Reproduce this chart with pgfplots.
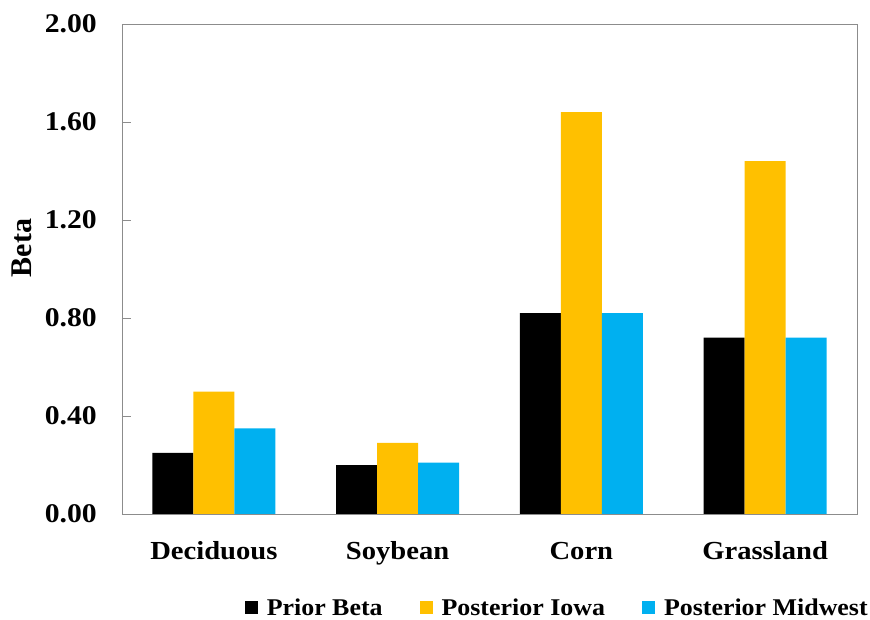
\documentclass[border=0pt]{standalone}
\usepackage{fontspec}
\setmainfont{Liberation Serif}
\newfontfamily\catfont{Liberation Serif}[FakeStretch=1.1]
\newfontfamily\tickfont{Liberation Serif}[FakeStretch=1.1]
\newfontfamily\legfont{Liberation Serif}[FakeStretch=1.08]
\usepackage{pgfplots}
\pgfplotsset{compat=1.18}
\definecolor{ciowa}{HTML}{FFC000}
\definecolor{cmid}{HTML}{00B0F0}
\definecolor{axgray}{HTML}{8C8C8C}
\begin{document}
\begin{tikzpicture}
\useasboundingbox (-122pt,-105pt) rectangle (748pt,514pt);
\begin{axis}[
  at={(0pt,0pt)}, anchor=south west,
  scale only axis, width=735pt, height=490pt,
  ybar=0pt, bar width=41pt,
  axis on top,
  xmin=-0.5, xmax=3.5, ymin=0, ymax=2,
  xtick={0,1,2,3}, xticklabels={Deciduous,Soybean,Corn,Grassland},
  x tick style={draw=none},
  ytick={0,0.4,0.8,1.2,1.6,2.0},
  ytick pos=left, tick align=inside, major tick length=9pt,
  y tick style={axgray, line width=0.8pt},
  axis line style={axgray, line width=0.8pt},
  y tick label style={/pgf/number format/fixed, /pgf/number format/fixed zerofill, /pgf/number format/precision=2, /pgf/number format/assume math mode=true,
    font=\tickfont\bfseries\fontsize{27}{32}\selectfont, anchor=east, inner sep=0pt, xshift=-25pt},
  x tick label style={font=\catfont\bfseries\fontsize{26}{30}\selectfont, anchor=base, yshift=-45pt},
  ylabel={Beta},
  ylabel style={font=\bfseries\fontsize{30}{36}\selectfont, at={(axis description cs:-0.136,0.543)}, anchor=center},
  legend style={at={(axis description cs:0.167,-0.191)}, anchor=west, draw=none, fill=none, inner sep=0pt, outer sep=0pt,
    font=\legfont\bfseries\fontsize{24}{28}\selectfont, nodes={inner sep=0pt}, cells={anchor=west},
    /tikz/every odd column/.append style={column sep=9pt},
    /tikz/every even column/.append style={column sep=37pt}},
  legend columns=3,
  legend image code/.code={\fill[#1, draw=none] (0pt,-6.5pt) rectangle (13pt,6.5pt);},
]
\addplot[fill=black, draw=none] coordinates {(0,0.25) (1,0.20) (2,0.82) (3,0.72)};
\addplot[fill=ciowa, draw=none] coordinates {(0,0.50) (1,0.29) (2,1.64) (3,1.44)};
\addplot[fill=cmid, draw=none] coordinates {(0,0.35) (1,0.21) (2,0.82) (3,0.72)};
\legend{Prior Beta, Posterior Iowa, Posterior Midwest}
\end{axis}
\end{tikzpicture}
\end{document}
